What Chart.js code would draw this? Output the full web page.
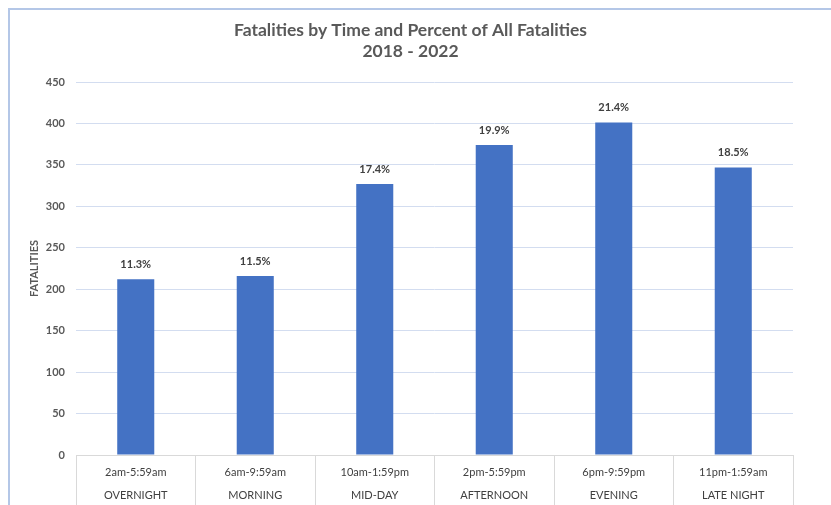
<!DOCTYPE html>
<html>
<head>
<meta charset="utf-8">
<script src="https://cdn.jsdelivr.net/npm/chart.js@4"></script>
<style>
  html, body { margin: 0; padding: 0; background: #ffffff; overflow: hidden; }
  #frame {
    position: absolute; left: 8px; top: 8px; width: 900px; height: 600px;
    border-left: 2px solid #b4c7e7; border-top: 2px solid #b4c7e7;
    box-sizing: border-box;
  }
  #c { position: absolute; left: 0; top: 0; }
</style>
</head>
<body>
<div id="frame"></div>
<canvas id="c" width="831" height="505"></canvas>
<script>
// Time-of-day buckets and fatality counts, 2018 - 2022
const timeRanges = ['2am-5:59am', '6am-9:59am', '10am-1:59pm', '2pm-5:59pm', '6pm-9:59pm', '11pm-1:59am'];
const periods = ['OVERNIGHT', 'MORNING', 'MID-DAY', 'AFTERNOON', 'EVENING', 'LATE NIGHT'];
const fatalities = [212, 216, 327, 374, 401, 347];
const percentLabels = ['11.3%', '11.5%', '17.4%', '19.9%', '21.4%', '18.5%'];
const yTicks = [0, 50, 100, 150, 200, 250, 300, 350, 400, 450];

const FONT = 'Lato, "Liberation Sans", sans-serif';

// Percent share written above each bar
const barLabels = {
  id: 'barLabels',
  afterDatasetsDraw(chart) {
    const ctx = chart.ctx;
    const meta = chart.getDatasetMeta(0);
    ctx.save();
    ctx.font = 'bold 11px ' + FONT;
    ctx.fillStyle = '#404040';
    ctx.textAlign = 'center';
    ctx.textBaseline = 'middle';
    meta.data.forEach((bar, i) => {
      ctx.fillText(percentLabels[i], bar.x, bar.y - 15);
    });
    ctx.restore();
  }
};

new Chart(document.getElementById('c'), {
  type: 'bar',
  data: {
    labels: timeRanges.map((t, i) => [t, periods[i]]),
    datasets: [{
      label: 'Fatalities',
      data: fatalities,
      backgroundColor: '#4472c4',
      borderWidth: 0,
      categoryPercentage: 1,
      barPercentage: 0.31
    }]
  },
  options: {
    responsive: false,
    animation: false,
    devicePixelRatio: 1,
    layout: { padding: { top: 20, right: 38, bottom: 0, left: 28 } },
    plugins: {
      legend: { display: false },
      tooltip: { enabled: false },
      title: {
        display: true,
        text: ['Fatalities by Time and Percent of All Fatalities', '2018 - 2022'],
        color: '#595959',
        font: { family: FONT, size: 17.5, weight: 'bold', lineHeight: 1.2 },
        padding: { top: 0, bottom: 20 }
      }
    },
    scales: {
      x: {
        offset: true,
        grid: {
          offset: true,
          drawOnChartArea: false,
          drawTicks: true,
          tickLength: 50,
          color: '#d9d9d9'
        },
        border: { display: true, color: '#d9d9d9', width: 1 },
        ticks: {
          color: '#404040',
          font: { family: FONT, size: 11, lineHeight: 23 / 11 },
          padding: -44.5,
          maxRotation: 0,
          autoSkip: false
        },
        afterFit(scale) { scale.height = 50; }
      },
      y: {
        min: 0,
        max: 450,
        afterBuildTicks(scale) { scale.ticks = yTicks.map(v => ({ value: v })); },
        grid: {
          color: (c) => (c.tick && c.tick.value === 0 ? '#d9d9d9' : '#d3ddf0'),
          lineWidth: 1,
          drawTicks: false
        },
        border: { display: false },
        ticks: {
          color: '#595959',
          font: { family: FONT, size: 11, weight: 700 },
          padding: 11
        },
        title: {
          display: true,
          text: 'FATALITIES',
          color: '#595959',
          font: { family: FONT, size: 11, weight: 700 },
          padding: { top: 0, bottom: 6 }
        },
        afterFit(scale) { scale.width = 48; }
      }
    }
  },
  plugins: [barLabels]
});
</script>
</body>
</html>
